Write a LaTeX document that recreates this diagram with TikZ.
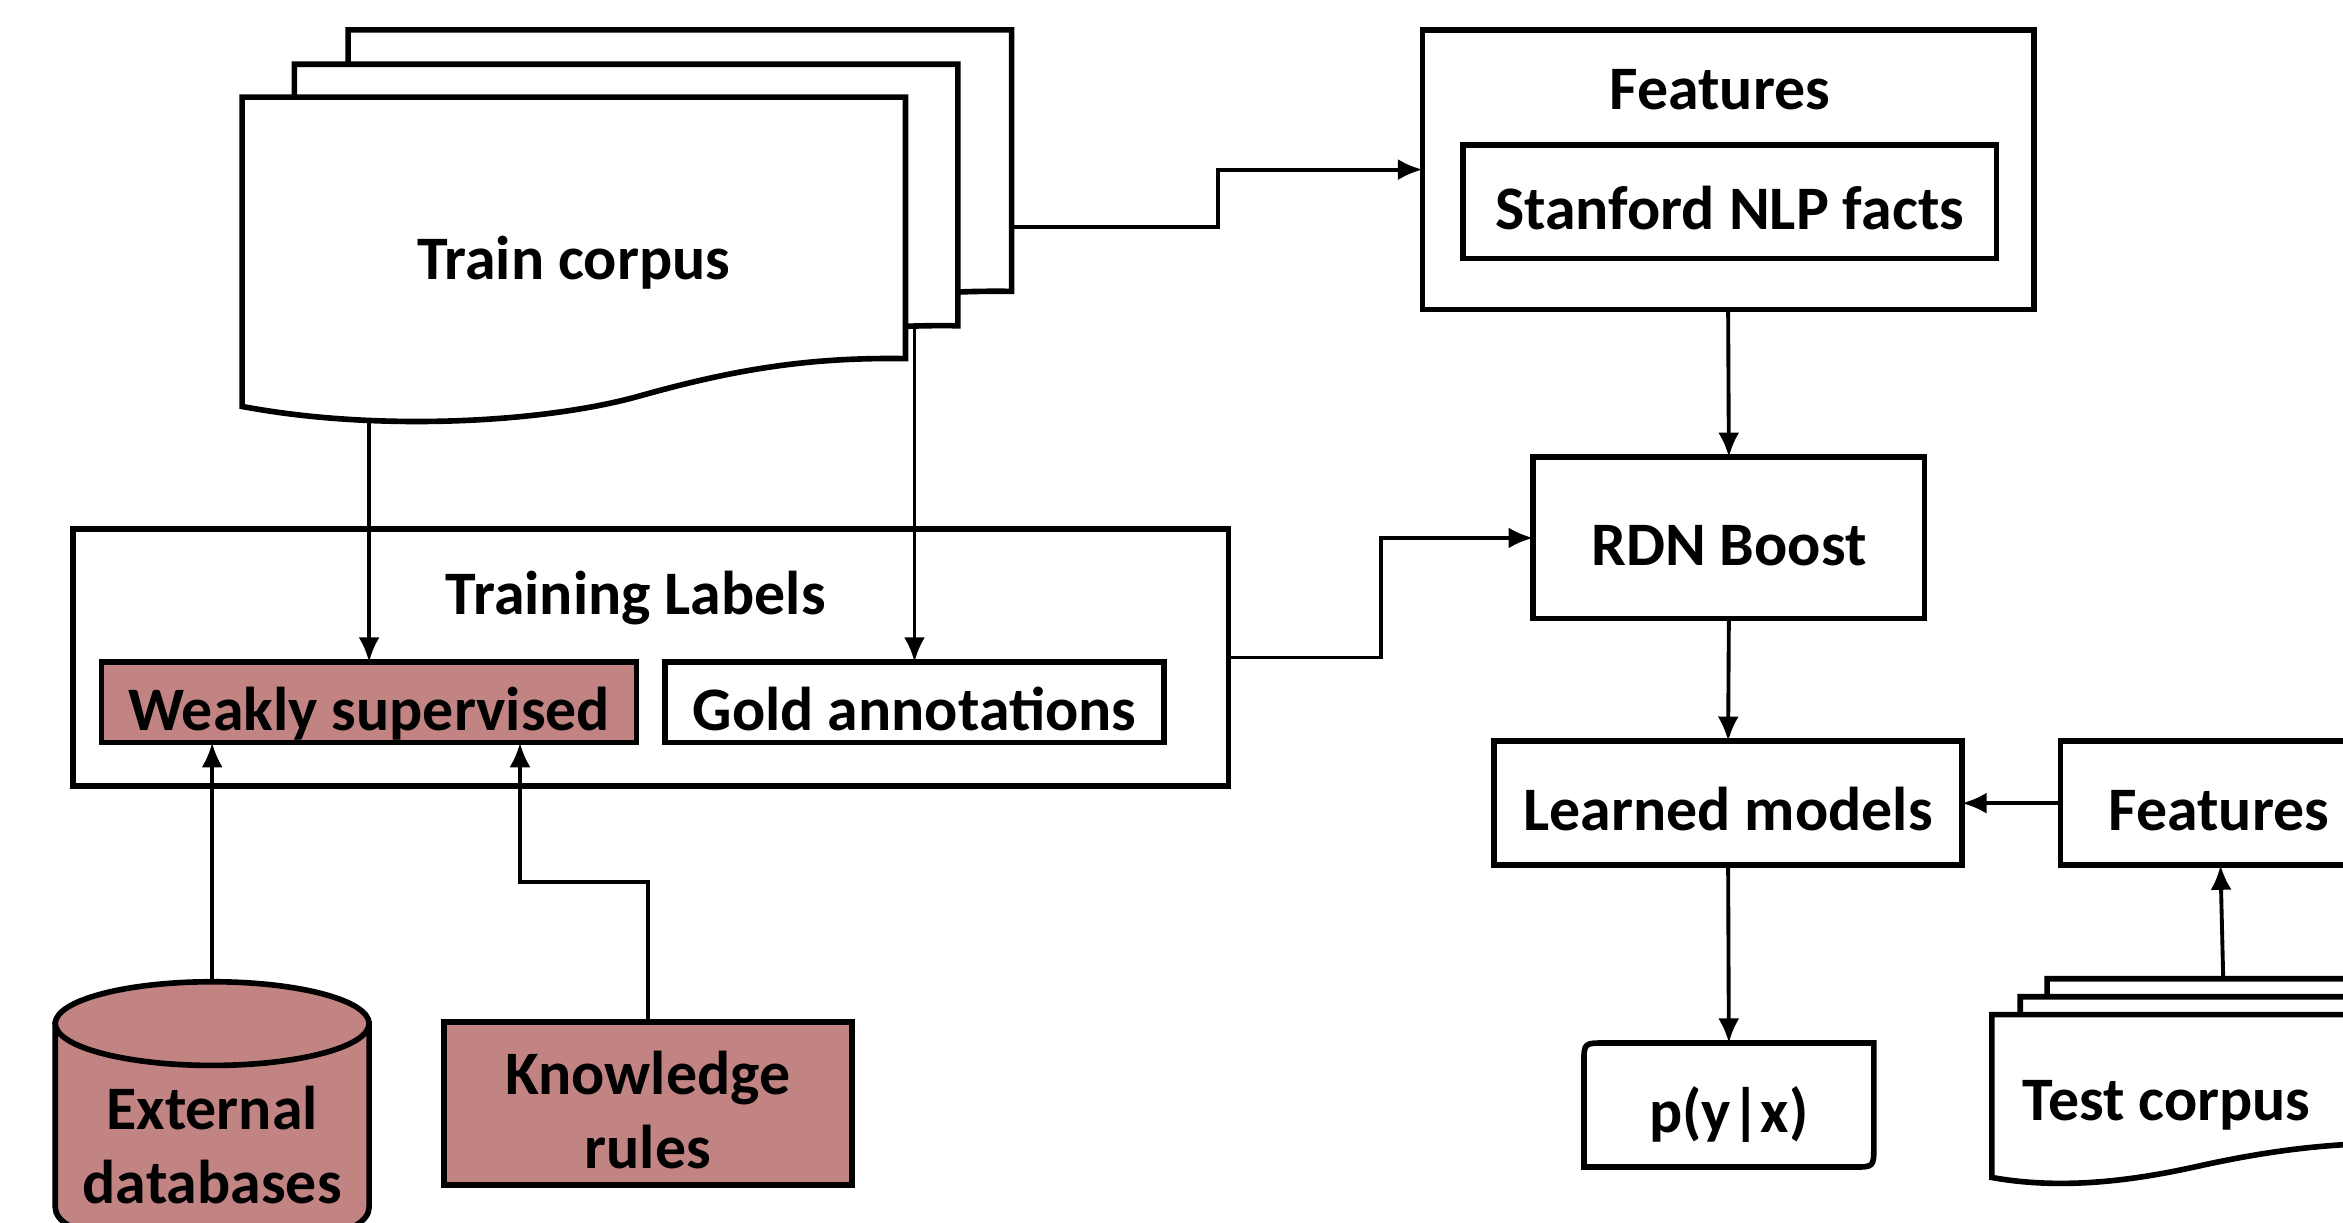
\documentclass[tikz,border=0pt]{standalone}
\usepackage{fontspec}
\setmainfont{Carlito}
\usetikzlibrary{arrows.meta,calc}
\definecolor{rose}{RGB}{193,132,130}
\begin{document}
\begin{tikzpicture}[x=0.01494cm,y=-0.01494cm,
  font=\fontsize{17.6}{21}\selectfont\bfseries,
  box/.style={draw,line width=1.6pt,fill=white,inner sep=0pt,outer sep=0pt,text height=15.8pt,text depth=0pt},
  rosebox/.style={box,fill=rose},
  lbl/.style={inner sep=0pt,outer sep=0pt,align=center},
  conn/.style={line width=1.1pt,-{Latex[length=7pt,width=6pt]}},
  docline/.style={line width=1.6pt,fill=white}]
\useasboundingbox (0,0) rectangle (1568,818);
\clip (0,0) rectangle (1568,818);

% right column
\node[box,minimum width=6.110cm,minimum height=2.794cm] (feat) at (1156.5,113.5) {};
\node[lbl] (featlbl) at (1151,60) {Features};
\node[box,minimum width=5.334cm,minimum height=1.135cm] (nlp) at (1157.5,135) {Stanford NLP facts};
\node[box,minimum width=3.914cm,minimum height=1.614cm] (rdn) at (1157,360) {RDN Boost};
\node[box,minimum width=4.676cm,minimum height=1.240cm] (lm) at (1156.5,537.5) {Learned models};
\node[box,minimum width=3.167cm,minimum height=1.240cm] (fr) at (1485,537.5) {Features};
\node[box,draw=none,fill=none,minimum width=2.898cm,minimum height=1.240cm] (py) at (1157,739.5) {p(y|x)};
\draw[line width=1.6pt] (py.south west) -- ($(py.north west)+(0,14)$) .. controls (py.north west) .. ($(py.north west)+(14,0)$) -- (py.north east) -- ($(py.south east)+(0,-14)$) .. controls (py.south east) .. ($(py.south east)+(-14,0)$) -- cycle;

% training labels
\node[box,minimum width=11.549cm,minimum height=2.570cm] (tl) at (435.5,440) {};
\node[lbl] (tllbl) at (425.5,400) {Training Labels};
\node[rosebox,minimum width=5.349cm,minimum height=0.807cm] (ws) at (247,470) {Weakly supervised};
\node[box,minimum width=4.990cm,minimum height=0.807cm] (gold) at (612,470) {Gold annotations};
\node[rosebox,minimum width=4.079cm,minimum height=1.628cm] (kr) at (433.5,738.5) {};
\node[lbl] (krlbl) at (433.5,743) {Knowledge\\rules};

% cylinder
\filldraw[docline,fill=rose] (37,685) -- (37,808) .. controls (37,845) and (247,845) .. (247,808) -- (247,685) -- cycle;
\filldraw[docline,fill=rose] (142,685) ellipse [x radius=105,y radius=28];
\coordinate (dbtop) at (142,657);
\node[lbl] (db) at (142,766) {External\\databases};

% connectors
\coordinate (trainout) at (670,152);
\draw[conn] (trainout) -- (815,152) |- (feat.west);
\draw[conn] (tl.east) -- (924,440) |- (rdn.west);
\draw[conn] (feat.south) -- (rdn.north);
\draw[conn] (rdn.south) -- (lm.north);
\draw[conn] (lm.south) -- (py.north);
\draw[conn] (fr.west) -- (lm.east);
\coordinate (tctop) at (1488,662);
\draw[conn] (tctop) -- ($(fr.south)+(1,0)$);
\coordinate (frontout) at (247,275);
\draw[conn] (frontout) -- (ws.north);
\coordinate (midout) at (612,212);
\draw[conn] (midout) -- (gold.north);
\draw[conn] (dbtop) -- (dbtop |- ws.south);
\coordinate (kturn) at (348,590);
\draw[conn] (kr.north) |- (kturn) -- (kturn |- ws.south);

% train corpus documents
\begin{scope}[shift={(233,20)}]
\filldraw[docline] (0,0) -- (444,0) -- (444,175) .. controls (380,174) and (330,182) .. (266,200) .. controls (202,218) and (90,224) .. (0,207) -- cycle;
\end{scope}
\begin{scope}[shift={(197,43)}]
\filldraw[docline] (0,0) -- (444,0) -- (444,175) .. controls (380,174) and (330,182) .. (266,200) .. controls (202,218) and (90,224) .. (0,207) -- cycle;
\end{scope}
\begin{scope}[shift={(162,65)}]
\filldraw[docline] (0,0) -- (444,0) -- (444,175) .. controls (380,174) and (330,182) .. (266,200) .. controls (202,218) and (90,224) .. (0,207) -- cycle;
\end{scope}
\node[lbl] (train) at (384,176) {Train corpus};

% test corpus documents
\begin{scope}[shift={(1370,655)}]
\filldraw[docline] (0,0) -- (270,0) -- (270,86) .. controls (230,86) and (190,90) .. (140,101) .. controls (100,110) and (50,118) .. (0,109) -- cycle;
\end{scope}
\begin{scope}[shift={(1352,667)}]
\filldraw[docline] (0,0) -- (270,0) -- (270,86) .. controls (230,86) and (190,90) .. (140,101) .. controls (100,110) and (50,118) .. (0,109) -- cycle;
\end{scope}
\begin{scope}[shift={(1333,679)}]
\filldraw[docline] (0,0) -- (270,0) -- (270,86) .. controls (230,86) and (190,90) .. (140,101) .. controls (100,110) and (50,118) .. (0,109) -- cycle;
\end{scope}
\node[lbl] (tc) at (1450,740) {Test corpus};
\end{tikzpicture}
\end{document}
